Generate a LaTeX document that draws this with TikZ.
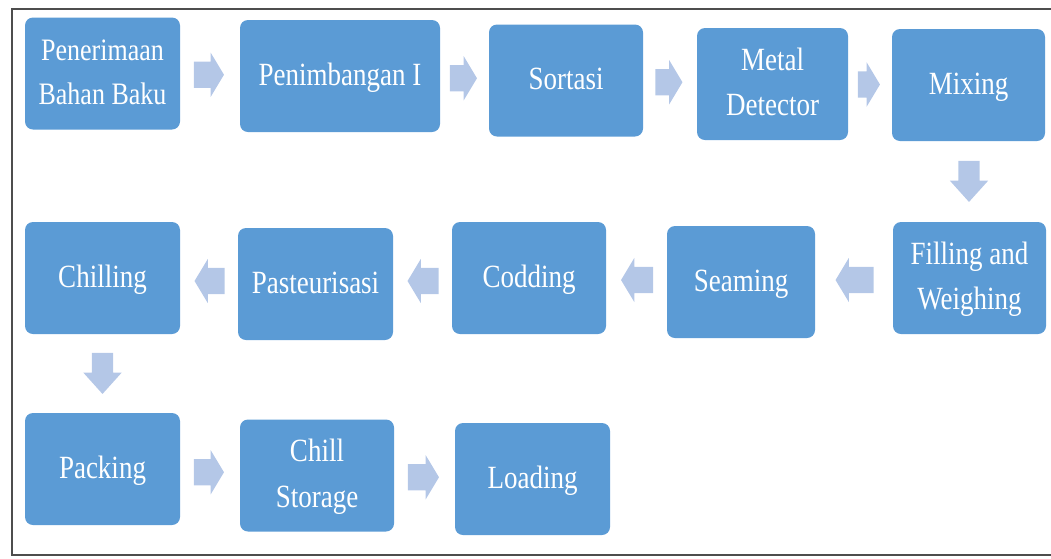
\documentclass[tikz,border=0pt]{standalone}
\usepackage{fontspec}
\setmainfont{Liberation Serif}
\usepackage{graphicx}
\usetikzlibrary{positioning,calc,shapes.arrows}
\definecolor{stepBlue}{HTML}{5B9BD5}
\definecolor{flowBlue}{HTML}{B4C7E7}
\definecolor{frameInk}{HTML}{4D4D4D}
% two-line labels, a bit taller than the plain font
\newcommand{\steptext}[1]{\scalebox{1}[1.2]{\begin{tabular}{@{}c@{}}#1\end{tabular}}}
\tikzset{
  stepbox/.style={fill=stepBlue, draw=none, rounded corners=8pt, text=white,
    minimum width=155pt, minimum height=112pt, inner sep=0pt, align=center,
    font=\fontsize{27}{38}\selectfont},
  flowarrow/.style={single arrow, fill=flowBlue, draw=none,
    inner xsep=0pt, inner ysep=13pt, minimum height=30pt,
    single arrow head extend=9pt, single arrow tip angle=118, single arrow head indent=0pt},
  flowright/.style={flowarrow, xshift=-5pt},
  flowleft/.style={flowarrow, shape border rotate=180, xshift=4.5pt},
  flowdown/.style={flowarrow, shape border rotate=270, yshift=6pt, minimum height=41pt,
    inner xsep=10.5pt, inner ysep=0pt, single arrow head extend=8.5pt, single arrow tip angle=84},
}

\begin{document}
\begin{tikzpicture}[x=1pt, y=-1pt]
  \useasboundingbox (0,0) rectangle (1051,558);
  \draw[frameInk, line width=2pt] (1051,9) -- (12,9) -- (12,555) -- (1051,555);

  % first row
  \node[stepbox, font=\fontsize{26}{37}\selectfont] (terima) at (102.5,73.5) {\steptext{Penerimaan\\Bahan Baku}};
  \node[stepbox, minimum width=200pt] (timbang) at (340,76) {\steptext{Penimbangan I}};
  \node[stepbox, minimum width=154pt] (sortasi) at (566,80.5) {\steptext{Sortasi}};
  \node[stepbox, minimum width=151pt] (metal) at (772.5,84) {\steptext{Metal\\Detector}};
  \node[stepbox, minimum width=153pt] (mixing) at (968.5,85) {\steptext{Mixing}};

  % second row, right to left
  \node[stepbox, minimum width=153pt] (filling) at (969.5,278) {\steptext{Filling and\\Weighing}};
  \node[stepbox, minimum width=148pt] (seaming) at (741,282) {\steptext{Seaming}};
  \node[stepbox, minimum width=154pt] (codding) at (529,278) {\steptext{Codding}};
  \node[stepbox] (pasteur) at (315.5,284) {\steptext{Pasteurisasi}};
  \node[stepbox] (chilling) at (102.5,278) {\steptext{Chilling}};

  % third row
  \node[stepbox] (packing) at (102.5,469) {\steptext{Packing}};
  \node[stepbox, minimum width=154pt] (storage) at (317,475.5) {\steptext{Chill\\Storage}};
  \node[stepbox] (loading) at (532.5,479) {\steptext{Loading}};

  % block arrows between the steps
  \path (terima.east) -- (timbang.west) node[flowright, midway] (a1) {};
  \path (timbang.east) -- (sortasi.west) node[flowright, midway, minimum height=27pt] (a2) {};
  \path (sortasi.east) -- (metal.west) node[flowright, midway, minimum height=27pt] (a3) {};
  \path (metal.east) -- (mixing.west) node[flowright, midway, minimum height=22pt] (a4) {};
  \path (mixing.south) -- (filling.north) node[flowdown, midway] (a5) {};
  \path (filling.west) -- (seaming.east) node[flowleft, midway, minimum height=38pt] (a6) {};
  \path (seaming.west) -- (codding.east) node[flowleft, midway, minimum height=32pt] (a7) {};
  \path (codding.west) -- (pasteur.east) node[flowleft, midway, minimum height=31pt] (a8) {};
  \path (pasteur.west) -- (chilling.east) node[flowleft, midway] (a9) {};
  \path (chilling.south) -- (packing.north) node[flowdown, midway] (a10) {};
  \path (packing.east) -- (storage.west) node[flowright, midway] (a11) {};
  \path (storage.east) -- (loading.west) node[flowright, midway, minimum height=31pt] (a12) {};
\end{tikzpicture}
\end{document}
